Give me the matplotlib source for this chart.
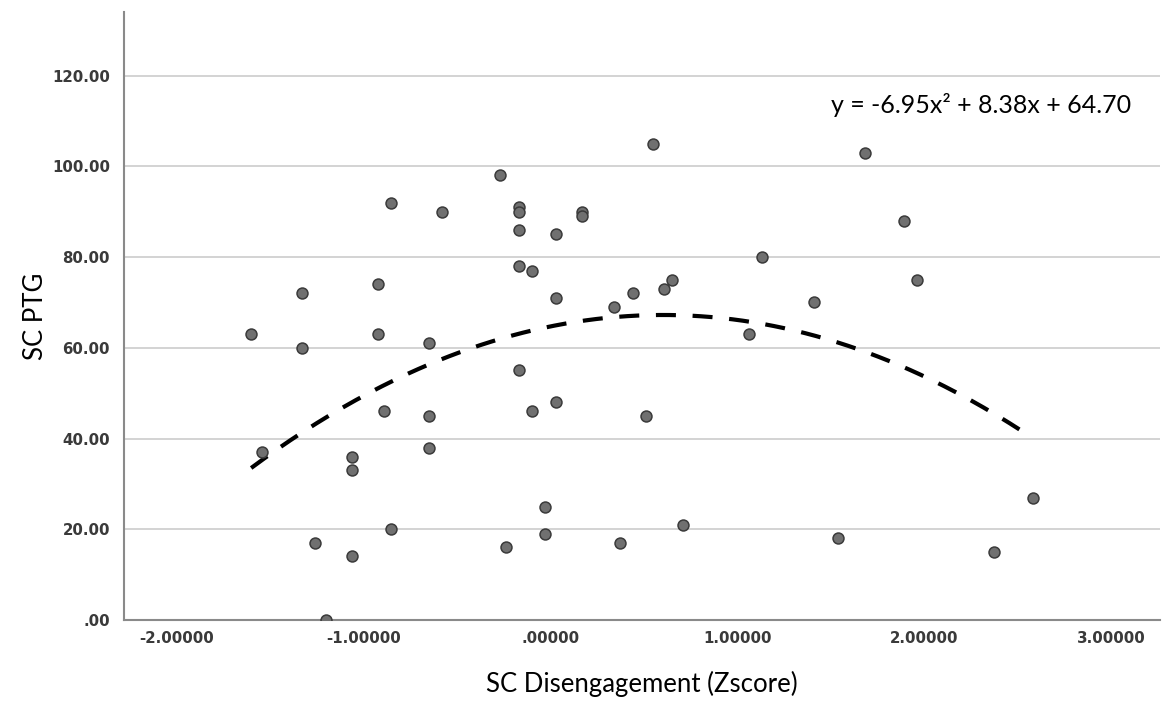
import numpy as np
import matplotlib
matplotlib.use("Agg")
import matplotlib.pyplot as plt

# Data (x = SC Disengagement z-score, y = SC PTG)
x_vals = [-1.60, -1.54, -1.33, -1.33, -1.26, -1.20, -1.06, -1.06, -1.06,
          -0.92, -0.92, -0.89, -0.85, -0.85, -0.65, -0.65, -0.65, -0.58,
          -0.27, -0.24, -0.17, -0.17, -0.17, -0.17, -0.17, -0.10, -0.10,
          -0.03, -0.03, 0.03, 0.03, 0.03, 0.17, 0.17, 0.34, 0.37, 0.44,
          0.51, 0.61, 0.65, 0.71, 0.55, 1.06, 1.13, 1.41, 1.54, 1.68,
          1.89, 1.96, 2.37, 2.58]
y_vals = [63, 37, 72, 60, 17, 0, 36, 33, 14,
          74, 63, 46, 92, 20, 61, 45, 38, 90,
          98, 16, 91, 90, 86, 78, 55, 77, 46,
          25, 19, 85, 71, 48, 90, 89, 69, 17, 72,
          45, 73, 75, 21, 105, 63, 80, 70, 18, 103,
          88, 75, 15, 27]

# Quadratic fit coefficients shown on the chart
coef_a, coef_b, coef_c = -6.95, 8.38, 64.70
equation = "y = -6.95x\u00b2 + 8.38x + 64.70"

x_ticks = [-2, -1, 0, 1, 2, 3]
x_tick_labels = ["-2.00000", "-1.00000", ".00000", "1.00000", "2.00000", "3.00000"]
y_ticks = [0, 20, 40, 60, 80, 100, 120]
y_tick_labels = [".00", "20.00", "40.00", "60.00", "80.00", "100.00", "120.00"]

fig = plt.figure(figsize=(11.73, 7.06), dpi=100)
ax = fig.add_axes([0.1057, 0.1218, 0.8833, 0.8612])

ax.set_xlim(-2.28, 3.26)
ax.set_ylim(0, 134)

ax.yaxis.grid(True, color="#d0d0d0", linewidth=1.3)
ax.set_axisbelow(True)

xs = np.linspace(min(x_vals), max(x_vals), 300)
ys = coef_a * xs**2 + coef_b * xs + coef_c
ax.plot(xs, ys, color="black", linewidth=3.0, linestyle=(0, (4.8, 4.0)), zorder=2,
        dash_capstyle="butt")

ax.scatter(x_vals, y_vals, s=62, facecolor="#707070", edgecolor="#3a3a3a",
           linewidth=1.1, zorder=3)

for s in ["top", "right"]:
    ax.spines[s].set_visible(False)
for s in ["left", "bottom"]:
    ax.spines[s].set_color("#8a8a8a")
    ax.spines[s].set_linewidth(1.5)

ax.set_xticks(x_ticks)
ax.set_xticklabels(x_tick_labels)
ax.set_yticks(y_ticks)
ax.set_yticklabels(y_tick_labels)
ax.tick_params(axis="both", length=0, labelsize=10.8, labelcolor="#3a3a3a")
ax.tick_params(axis="x", pad=8)
ax.tick_params(axis="y", pad=10)
for lab in ax.get_xticklabels() + ax.get_yticklabels():
    lab.set_fontweight("bold")
    lab.set_family("DejaVu Sans")

ax.set_xlabel("SC Disengagement (Zscore)", fontsize=18.5, family="Lato", labelpad=18)
ax.set_ylabel("SC PTG", fontsize=18.5, family="Lato", labelpad=3)

ax.text(1.50, 113.5, equation, fontsize=18, family="Lato", ha="left", va="center")

fig.savefig("out.png", dpi=100)
